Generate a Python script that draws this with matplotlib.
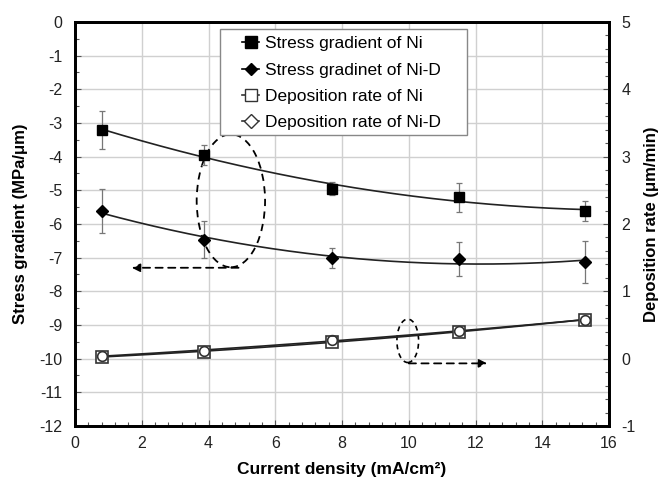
import numpy as np
import matplotlib
matplotlib.use("Agg")
import matplotlib.pyplot as plt
from matplotlib.lines import Line2D
from matplotlib.patches import Ellipse, Rectangle
from matplotlib.ticker import MultipleLocator

plt.rcParams['font.family'] = ['Liberation Sans', 'DejaVu Sans']
plt.rcParams['axes.unicode_minus'] = False

current = [0.82, 3.85, 7.71, 11.52, 15.29]
stress_ni = [-3.2, -3.95, -4.95, -5.21, -5.61]
stress_ni_err = [0.56, 0.3, 0.2, 0.42, 0.3]
stress_nid = [-5.62, -6.47, -7.02, -7.03, -7.14]
stress_nid_err = [0.65, 0.55, 0.3, 0.5, 0.62]
rate_ni = [0.03, 0.10, 0.25, 0.40, 0.58]
rate_nid = [0.04, 0.12, 0.27, 0.41, 0.58]

labels = ["Stress gradient of Ni", "Stress gradinet of Ni-D",
          "Deposition rate of Ni", "Deposition rate of Ni-D"]

W, H = 665, 480
fig = plt.figure(figsize=(6.65, 4.8), dpi=100)
ax = fig.add_axes([0.1128, 0.1125, 0.8030, 0.8417])
ax2 = ax.twinx()

ax.set_xlim(0, 16)
ax.set_ylim(-12, 0)
ax2.set_ylim(-1, 5)

ax.xaxis.set_major_locator(MultipleLocator(2))
ax.xaxis.set_minor_locator(MultipleLocator(0.4))
ax.yaxis.set_major_locator(MultipleLocator(1))
ax.yaxis.set_minor_locator(MultipleLocator(0.5))
ax2.yaxis.set_major_locator(MultipleLocator(1))
ax2.yaxis.set_minor_locator(MultipleLocator(0.2))

ax.grid(True, which='major', color='#d0d0d0', linewidth=1.0)
ax.set_axisbelow(True)

for a in (ax, ax2):
    for s in a.spines.values():
        s.set_linewidth(2.0)
    a.tick_params(which='both', direction='in', labelsize=11.5, width=0.8,
                  colors='#555555', labelcolor='#222222')
    a.tick_params(which='major', length=4)
    a.tick_params(which='minor', length=3)
ax.tick_params(axis='x', pad=7)
ax.tick_params(axis='y', pad=9)
ax2.tick_params(axis='y', pad=9)

xs = np.linspace(min(current), max(current), 200)
cur = np.array(current)

# stress on left axis
ax.errorbar(current, stress_ni, yerr=stress_ni_err, fmt='none', ecolor='#777777',
            elinewidth=0.9, capsize=2.5, capthick=0.9)
ax.errorbar(current, stress_nid, yerr=stress_nid_err, fmt='none', ecolor='#777777',
            elinewidth=0.9, capsize=2.5, capthick=0.9)
p1 = np.polyfit(cur, stress_ni, 2)
p2 = np.polyfit(cur, stress_nid, 2)
ax.plot(xs, np.polyval(p1, xs), color='#222222', lw=1.2)
ax.plot(xs, np.polyval(p2, xs), color='#222222', lw=1.2)
ax.plot(current, stress_ni, 's', color='black', ms=7, ls='none')
ax.plot(current, stress_nid, 'D', color='black', ms=6, ls='none')

# deposition rate on right axis
p3 = np.polyfit(cur, rate_ni, 2)
p4 = np.polyfit(cur, rate_nid, 2)
ax2.plot(xs, np.polyval(p3, xs), color='#222222', lw=1.2)
ax2.plot(xs, np.polyval(p4, xs), color='#222222', lw=1.2)
ax2.plot(current, rate_ni, 's', mfc='white', mec='#333333', mew=1.2, ms=9, ls='none')
ax2.plot(current, rate_nid, 'o', mfc='none', mec='#333333', mew=1.2, ms=7, ls='none')

# annotations
ax.add_patch(Ellipse((4.67, -5.31), 2.05, 3.95, fill=False, ls=(0, (4, 3)),
                     lw=1.3, color='black'))
ax.annotate('', xy=(1.7, -7.3), xytext=(4.9, -7.3),
            arrowprops=dict(arrowstyle='-|>', ls=(0, (4, 3)), lw=1.3, color='black',
                            mutation_scale=12, shrinkA=0, shrinkB=0))
ax.add_patch(Ellipse((9.97, -9.47), 0.65, 1.29, fill=False, ls=(0, (3, 2.5)),
                     lw=1.2, color='black'))
ax.annotate('', xy=(12.35, -10.14), xytext=(10.0, -10.14),
            arrowprops=dict(arrowstyle='-|>', ls=(0, (4, 3)), lw=1.3, color='black',
                            mutation_scale=12, shrinkA=0, shrinkB=0))

ax.set_xlabel('Current density (mA/cm²)', fontsize=12.5, fontweight='bold',
              labelpad=8)
ax.set_ylabel('Stress gradient (MPa/μm)', fontsize=12, fontweight='bold', labelpad=8)
ax2.set_ylabel('Deposition rate (μm/min)', fontsize=12, fontweight='bold', labelpad=6)

# legend frame
fig.add_artist(Rectangle((220 / W, 1 - 135 / H), (467 - 220) / W, (135 - 29) / H,
                         transform=fig.transFigure, facecolor='white',
                         edgecolor='#888888', linewidth=1.0, zorder=2))
handles = [
    Line2D([], [], color='black', lw=1.2, marker='s', ms=8),
    Line2D([], [], color='black', lw=1.2, marker='D', ms=6.5),
    Line2D([], [], color='#333333', lw=1.2, marker='s', ms=9, mfc='white'),
    Line2D([], [], color='#333333', lw=1.2, marker='D', ms=7, mfc='white'),
]
leg = fig.legend(handles, labels, loc='upper left', bbox_to_anchor=(242 / W, 1 - 36 / H),
                 bbox_transform=fig.transFigure, fontsize=12.5, frameon=False,
                 handlelength=1.0, handletextpad=0.3, labelspacing=0.65,
                 borderpad=0, borderaxespad=0)
leg.set_zorder(5)

fig.savefig('out.png', dpi=100)
